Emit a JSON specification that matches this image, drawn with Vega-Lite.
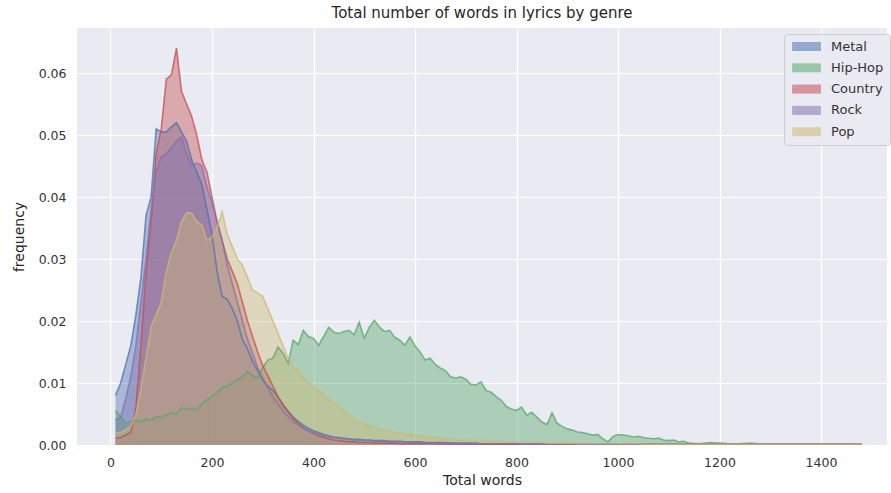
{
"$schema":"https://vega.github.io/schema/vega-lite/v6.json",
"width":810,"height":417,
"autosize":{"type":"none"},
"padding":{"left":77,"top":28,"right":4,"bottom":48},
"background":"white",
"title":{"text":"Total number of words in lyrics by genre","fontSize":15,"font":"DejaVu Sans","fontWeight":"normal","color":"#262626","offset":7},
"data":{"values":[
{"w":10,"Metal":0.0080,"Hip-Hop":0.0056,"Country":0.0011,"Rock":0.0040,"Pop":0.0020},
{"w":20,"Metal":0.0100,"Hip-Hop":0.0045,"Country":0.0012,"Rock":0.0045,"Pop":0.0020},
{"w":30,"Metal":0.0130,"Hip-Hop":0.0035,"Country":0.0016,"Rock":0.0075,"Pop":0.0025},
{"w":40,"Metal":0.0160,"Hip-Hop":0.0038,"Country":0.0020,"Rock":0.0110,"Pop":0.0030},
{"w":50,"Metal":0.0210,"Hip-Hop":0.0040,"Country":0.0060,"Rock":0.0160,"Pop":0.0050},
{"w":60,"Metal":0.0270,"Hip-Hop":0.0037,"Country":0.0160,"Rock":0.0230,"Pop":0.0090},
{"w":70,"Metal":0.0370,"Hip-Hop":0.0042,"Country":0.0280,"Rock":0.0300,"Pop":0.0140},
{"w":80,"Metal":0.0400,"Hip-Hop":0.0040,"Country":0.0360,"Rock":0.0380,"Pop":0.0190},
{"w":90,"Metal":0.0510,"Hip-Hop":0.0046,"Country":0.0470,"Rock":0.0440,"Pop":0.0210},
{"w":100,"Metal":0.0505,"Hip-Hop":0.0044,"Country":0.0510,"Rock":0.0465,"Pop":0.0230},
{"w":110,"Metal":0.0505,"Hip-Hop":0.0048,"Country":0.0590,"Rock":0.0470,"Pop":0.0280},
{"w":120,"Metal":0.0513,"Hip-Hop":0.0052,"Country":0.0597,"Rock":0.0480,"Pop":0.0310},
{"w":130,"Metal":0.0520,"Hip-Hop":0.0050,"Country":0.0640,"Rock":0.0490,"Pop":0.0330},
{"w":140,"Metal":0.0505,"Hip-Hop":0.0060,"Country":0.0570,"Rock":0.0497,"Pop":0.0360},
{"w":150,"Metal":0.0490,"Hip-Hop":0.0057,"Country":0.0550,"Rock":0.0470,"Pop":0.0375},
{"w":160,"Metal":0.0460,"Hip-Hop":0.0060,"Country":0.0530,"Rock":0.0450,"Pop":0.0374},
{"w":170,"Metal":0.0440,"Hip-Hop":0.0056,"Country":0.0500,"Rock":0.0455,"Pop":0.0360},
{"w":180,"Metal":0.0420,"Hip-Hop":0.0066,"Country":0.0460,"Rock":0.0450,"Pop":0.0355},
{"w":190,"Metal":0.0380,"Hip-Hop":0.0073,"Country":0.0440,"Rock":0.0416,"Pop":0.0330},
{"w":200,"Metal":0.0340,"Hip-Hop":0.0078,"Country":0.0400,"Rock":0.0390,"Pop":0.0335},
{"w":210,"Metal":0.0280,"Hip-Hop":0.0085,"Country":0.0360,"Rock":0.0360,"Pop":0.0350},
{"w":220,"Metal":0.0240,"Hip-Hop":0.0092,"Country":0.0330,"Rock":0.0330,"Pop":0.0376},
{"w":230,"Metal":0.0235,"Hip-Hop":0.0095,"Country":0.0300,"Rock":0.0290,"Pop":0.0340},
{"w":240,"Metal":0.0220,"Hip-Hop":0.0100,"Country":0.0280,"Rock":0.0260,"Pop":0.0320},
{"w":250,"Metal":0.0200,"Hip-Hop":0.0105,"Country":0.0260,"Rock":0.0230,"Pop":0.0300},
{"w":260,"Metal":0.0170,"Hip-Hop":0.0110,"Country":0.0230,"Rock":0.0200,"Pop":0.0290},
{"w":270,"Metal":0.0155,"Hip-Hop":0.0118,"Country":0.0200,"Rock":0.0170,"Pop":0.0270},
{"w":280,"Metal":0.0135,"Hip-Hop":0.0112,"Country":0.0175,"Rock":0.0148,"Pop":0.0250},
{"w":290,"Metal":0.0120,"Hip-Hop":0.0108,"Country":0.0150,"Rock":0.0125,"Pop":0.0245},
{"w":300,"Metal":0.0105,"Hip-Hop":0.0125,"Country":0.0128,"Rock":0.0108,"Pop":0.0240},
{"w":310,"Metal":0.0095,"Hip-Hop":0.0137,"Country":0.0112,"Rock":0.0092,"Pop":0.0220},
{"w":320,"Metal":0.0088,"Hip-Hop":0.0140,"Country":0.0095,"Rock":0.0078,"Pop":0.0200},
{"w":330,"Metal":0.0078,"Hip-Hop":0.0158,"Country":0.0078,"Rock":0.0066,"Pop":0.0180},
{"w":340,"Metal":0.0065,"Hip-Hop":0.0148,"Country":0.0064,"Rock":0.0055,"Pop":0.0160},
{"w":350,"Metal":0.0055,"Hip-Hop":0.0132,"Country":0.0053,"Rock":0.0046,"Pop":0.0140},
{"w":360,"Metal":0.0045,"Hip-Hop":0.0169,"Country":0.0043,"Rock":0.0038,"Pop":0.0126},
{"w":370,"Metal":0.0038,"Hip-Hop":0.0162,"Country":0.0035,"Rock":0.0032,"Pop":0.0120},
{"w":380,"Metal":0.0032,"Hip-Hop":0.0185,"Country":0.0028,"Rock":0.0027,"Pop":0.0108},
{"w":390,"Metal":0.0027,"Hip-Hop":0.0175,"Country":0.0023,"Rock":0.0023,"Pop":0.0100},
{"w":400,"Metal":0.0023,"Hip-Hop":0.0172,"Country":0.0019,"Rock":0.0020,"Pop":0.0094},
{"w":410,"Metal":0.0020,"Hip-Hop":0.0161,"Country":0.0015,"Rock":0.0018,"Pop":0.0088},
{"w":420,"Metal":0.0017,"Hip-Hop":0.0175,"Country":0.0012,"Rock":0.0015,"Pop":0.0082},
{"w":430,"Metal":0.0015,"Hip-Hop":0.0190,"Country":0.0010,"Rock":0.0013,"Pop":0.0074},
{"w":440,"Metal":0.0013,"Hip-Hop":0.0182,"Country":0.0008,"Rock":0.0012,"Pop":0.0068},
{"w":450,"Metal":0.0012,"Hip-Hop":0.0180,"Country":0.0007,"Rock":0.0011,"Pop":0.0062},
{"w":460,"Metal":0.0011,"Hip-Hop":0.0183,"Country":0.0006,"Rock":0.0010,"Pop":0.0055},
{"w":470,"Metal":0.0010,"Hip-Hop":0.0185,"Country":0.0005,"Rock":0.0009,"Pop":0.0048},
{"w":480,"Metal":0.0009,"Hip-Hop":0.0178,"Country":0.0005,"Rock":0.0008,"Pop":0.0042},
{"w":490,"Metal":0.0009,"Hip-Hop":0.0198,"Country":0.0004,"Rock":0.0008,"Pop":0.0037},
{"w":500,"Metal":0.0008,"Hip-Hop":0.0172,"Country":0.0004,"Rock":0.0007,"Pop":0.0034},
{"w":510,"Metal":0.0008,"Hip-Hop":0.0190,"Country":0.0004,"Rock":0.0007,"Pop":0.0031},
{"w":520,"Metal":0.0007,"Hip-Hop":0.0201,"Country":0.0003,"Rock":0.0006,"Pop":0.0029},
{"w":530,"Metal":0.0007,"Hip-Hop":0.0190,"Country":0.0003,"Rock":0.0006,"Pop":0.0026},
{"w":540,"Metal":0.0007,"Hip-Hop":0.0183,"Country":0.0003,"Rock":0.0006,"Pop":0.0024},
{"w":550,"Metal":0.0006,"Hip-Hop":0.0185,"Country":0.0003,"Rock":0.0005,"Pop":0.0022},
{"w":560,"Metal":0.0006,"Hip-Hop":0.0174,"Country":0.0003,"Rock":0.0005,"Pop":0.0020},
{"w":570,"Metal":0.0006,"Hip-Hop":0.0169,"Country":0.0002,"Rock":0.0005,"Pop":0.0019},
{"w":580,"Metal":0.0005,"Hip-Hop":0.0161,"Country":0.0002,"Rock":0.0005,"Pop":0.0018},
{"w":590,"Metal":0.0005,"Hip-Hop":0.0174,"Country":0.0002,"Rock":0.0004,"Pop":0.0017},
{"w":600,"Metal":0.0005,"Hip-Hop":0.0160,"Country":0.0002,"Rock":0.0004,"Pop":0.0016},
{"w":610,"Metal":0.0005,"Hip-Hop":0.0150,"Country":0.0002,"Rock":0.0004,"Pop":0.0015},
{"w":620,"Metal":0.0004,"Hip-Hop":0.0137,"Country":0.0002,"Rock":0.0004,"Pop":0.0014},
{"w":630,"Metal":0.0004,"Hip-Hop":0.0140,"Country":0.0002,"Rock":0.0003,"Pop":0.0013},
{"w":640,"Metal":0.0004,"Hip-Hop":0.0130,"Country":0.0002,"Rock":0.0003,"Pop":0.0012},
{"w":650,"Metal":0.0004,"Hip-Hop":0.0124,"Country":0.0001,"Rock":0.0003,"Pop":0.0011},
{"w":660,"Metal":0.0004,"Hip-Hop":0.0120,"Country":0.0001,"Rock":0.0003,"Pop":0.0010},
{"w":670,"Metal":0.0003,"Hip-Hop":0.0110,"Country":0.0001,"Rock":0.0003,"Pop":0.0010},
{"w":680,"Metal":0.0003,"Hip-Hop":0.0108,"Country":0.0001,"Rock":0.0002,"Pop":0.0009},
{"w":690,"Metal":0.0003,"Hip-Hop":0.0110,"Country":0.0001,"Rock":0.0002,"Pop":0.0008},
{"w":700,"Metal":0.0003,"Hip-Hop":0.0106,"Country":0.0001,"Rock":0.0002,"Pop":0.0008},
{"w":710,"Metal":0.0003,"Hip-Hop":0.0098,"Country":0.0001,"Rock":0.0002,"Pop":0.0008},
{"w":720,"Metal":0.0003,"Hip-Hop":0.0097,"Country":0.0001,"Rock":0.0002,"Pop":0.0007},
{"w":730,"Metal":0.0002,"Hip-Hop":0.0102,"Country":0.0001,"Rock":0.0002,"Pop":0.0007},
{"w":740,"Metal":0.0002,"Hip-Hop":0.0088,"Country":0.0001,"Rock":0.0002,"Pop":0.0007},
{"w":750,"Metal":0.0002,"Hip-Hop":0.0085,"Country":0.0001,"Rock":0.0002,"Pop":0.0006},
{"w":760,"Metal":0.0002,"Hip-Hop":0.0078,"Country":0.0001,"Rock":0.0002,"Pop":0.0006},
{"w":770,"Metal":0.0002,"Hip-Hop":0.0072,"Country":0.0001,"Rock":0.0002,"Pop":0.0006},
{"w":780,"Metal":0.0002,"Hip-Hop":0.0062,"Country":0.0001,"Rock":0.0002,"Pop":0.0005},
{"w":790,"Metal":0.0002,"Hip-Hop":0.0058,"Country":0.0001,"Rock":0.0002,"Pop":0.0005},
{"w":800,"Metal":0.0002,"Hip-Hop":0.0056,"Country":0.0001,"Rock":0.0002,"Pop":0.0005},
{"w":810,"Metal":0.0002,"Hip-Hop":0.0061,"Country":0.0001,"Rock":0.0001,"Pop":0.0004},
{"w":820,"Metal":0.0002,"Hip-Hop":0.0048,"Country":0.0001,"Rock":0.0001,"Pop":0.0004},
{"w":830,"Metal":0.0002,"Hip-Hop":0.0053,"Country":0.0001,"Rock":0.0001,"Pop":0.0004},
{"w":840,"Metal":0.0002,"Hip-Hop":0.0045,"Country":0.0001,"Rock":0.0001,"Pop":0.0004},
{"w":850,"Metal":0.0002,"Hip-Hop":0.0037,"Country":0.0001,"Rock":0.0001,"Pop":0.0004},
{"w":860,"Metal":0.0002,"Hip-Hop":0.0033,"Country":0.0001,"Rock":0.0001,"Pop":0.0003},
{"w":870,"Metal":0.0002,"Hip-Hop":0.0052,"Country":0.0001,"Rock":0.0001,"Pop":0.0003},
{"w":880,"Metal":0.0001,"Hip-Hop":0.0035,"Country":0.0001,"Rock":0.0001,"Pop":0.0003},
{"w":890,"Metal":0.0001,"Hip-Hop":0.0030,"Country":0.0001,"Rock":0.0001,"Pop":0.0003},
{"w":900,"Metal":0.0001,"Hip-Hop":0.0026,"Country":0.0001,"Rock":0.0001,"Pop":0.0003},
{"w":910,"Metal":0.0001,"Hip-Hop":0.0024,"Country":0.0001,"Rock":0.0001,"Pop":0.0003},
{"w":920,"Metal":0.0001,"Hip-Hop":0.0021,"Country":0.0001,"Rock":0.0001,"Pop":0.0002},
{"w":930,"Metal":0.0001,"Hip-Hop":0.0020,"Country":0.0001,"Rock":0.0001,"Pop":0.0002},
{"w":940,"Metal":0.0001,"Hip-Hop":0.0018,"Country":0.0001,"Rock":0.0001,"Pop":0.0002},
{"w":950,"Metal":0.0001,"Hip-Hop":0.0016,"Country":0.0001,"Rock":0.0001,"Pop":0.0002},
{"w":960,"Metal":0.0001,"Hip-Hop":0.0017,"Country":0.0001,"Rock":0.0001,"Pop":0.0002},
{"w":970,"Metal":0.0001,"Hip-Hop":0.0010,"Country":0.0001,"Rock":0.0001,"Pop":0.0002},
{"w":980,"Metal":0.0001,"Hip-Hop":0.0005,"Country":0.0001,"Rock":0.0001,"Pop":0.0002},
{"w":990,"Metal":0.0001,"Hip-Hop":0.0014,"Country":0.0001,"Rock":0.0001,"Pop":0.0002},
{"w":1000,"Metal":0.0001,"Hip-Hop":0.0017,"Country":0.0001,"Rock":0.0001,"Pop":0.0002},
{"w":1010,"Metal":0.0001,"Hip-Hop":0.0016,"Country":0.0001,"Rock":0.0001,"Pop":0.0002},
{"w":1020,"Metal":0.0001,"Hip-Hop":0.0015,"Country":0.0001,"Rock":0.0001,"Pop":0.0002},
{"w":1030,"Metal":0.0001,"Hip-Hop":0.0013,"Country":0.0001,"Rock":0.0001,"Pop":0.0002},
{"w":1040,"Metal":0.0001,"Hip-Hop":0.0014,"Country":0.0001,"Rock":0.0001,"Pop":0.0002},
{"w":1050,"Metal":0.0001,"Hip-Hop":0.0012,"Country":0.0001,"Rock":0.0001,"Pop":0.0001},
{"w":1060,"Metal":0.0001,"Hip-Hop":0.0011,"Country":0.0001,"Rock":0.0001,"Pop":0.0001},
{"w":1070,"Metal":0.0001,"Hip-Hop":0.0010,"Country":0.0001,"Rock":0.0001,"Pop":0.0001},
{"w":1080,"Metal":0.0001,"Hip-Hop":0.0011,"Country":0.0001,"Rock":0.0001,"Pop":0.0001},
{"w":1090,"Metal":0.0001,"Hip-Hop":0.0008,"Country":0.0001,"Rock":0.0001,"Pop":0.0001},
{"w":1100,"Metal":0.0001,"Hip-Hop":0.0007,"Country":0.0001,"Rock":0.0001,"Pop":0.0001},
{"w":1110,"Metal":0.0001,"Hip-Hop":0.0008,"Country":0.0001,"Rock":0.0001,"Pop":0.0001},
{"w":1120,"Metal":0.0001,"Hip-Hop":0.0005,"Country":0.0001,"Rock":0.0001,"Pop":0.0001},
{"w":1130,"Metal":0.0001,"Hip-Hop":0.0006,"Country":0.0001,"Rock":0.0001,"Pop":0.0001},
{"w":1140,"Metal":0.0001,"Hip-Hop":0.0003,"Country":0.0001,"Rock":0.0001,"Pop":0.0001},
{"w":1160,"Metal":0.0001,"Hip-Hop":0.0002,"Country":0.0001,"Rock":0.0001,"Pop":0.0001},
{"w":1180,"Metal":0.0001,"Hip-Hop":0.0004,"Country":0.0001,"Rock":0.0001,"Pop":0.0001},
{"w":1200,"Metal":0.0001,"Hip-Hop":0.0003,"Country":0.0001,"Rock":0.0001,"Pop":0.0001},
{"w":1220,"Metal":0.0001,"Hip-Hop":0.0002,"Country":0.0001,"Rock":0.0001,"Pop":0.0001},
{"w":1240,"Metal":0.0001,"Hip-Hop":0.0002,"Country":0.0001,"Rock":0.0001,"Pop":0.0001},
{"w":1260,"Metal":0.0001,"Hip-Hop":0.0003,"Country":0.0001,"Rock":0.0001,"Pop":0.0001},
{"w":1280,"Metal":0.0001,"Hip-Hop":0.0002,"Country":0.0001,"Rock":0.0001,"Pop":0.0001},
{"w":1300,"Metal":0.0001,"Hip-Hop":0.0002,"Country":0.0001,"Rock":0.0001,"Pop":0.0001},
{"w":1340,"Metal":0.0001,"Hip-Hop":0.0002,"Country":0.0001,"Rock":0.0001,"Pop":0.0001},
{"w":1380,"Metal":0.0001,"Hip-Hop":0.0002,"Country":0.0001,"Rock":0.0001,"Pop":0.0001},
{"w":1420,"Metal":0.0001,"Hip-Hop":0.0002,"Country":0.0001,"Rock":0.0001,"Pop":0.0001},
{"w":1460,"Metal":0.0001,"Hip-Hop":0.0002,"Country":0.0001,"Rock":0.0001,"Pop":0.0001},
{"w":1480,"Metal":0.0001,"Hip-Hop":0.0001,"Country":0.0001,"Rock":0.0001,"Pop":0.0001}
]},
"transform":[{"fold":["Metal","Hip-Hop","Country","Rock","Pop"],"as":["genre","freq"]}],
"encoding":{
"x":{"field":"w","type":"quantitative","title":"Total words","scale":{"domain":[-66,1530],"nice":false,"zero":false},"axis":{"values":[0,200,400,600,800,1000,1200,1400],"format":"d"}},
"y":{"field":"freq","type":"quantitative","stack":null,"title":"frequency","scale":{"domain":[0,0.06726],"nice":false},"axis":{"values":[0,0.01,0.02,0.03,0.04,0.05,0.06],"format":".2f"}},
"color":{"field":"genre","type":"nominal","sort":["Metal","Hip-Hop","Country","Rock","Pop"],"scale":{"domain":["Metal","Hip-Hop","Country","Rock","Pop"],"range":["#4C72B0","#55A868","#C44E52","#8172B2","#CCB974"]},
"legend":{"title":null,"orient":"none","legendX":707,"legendY":6,"padding":6,"fillColor":"#EAEAF2","strokeColor":"#CCCCCC","cornerRadius":3,"symbolType":"M-3.2,-1H3.2V1H-3.2Z","symbolSize":81,"symbolOpacity":0.55,"symbolStrokeWidth":0,"labelFontSize":13,"labelFont":"DejaVu Sans","labelColor":"#333333","rowPadding":7.3,"symbolOffset":10,"labelOffset":18}}
},
"layer":[
{"mark":{"type":"area","fillOpacity":0.42,"clip":true}},
{"mark":{"type":"line","strokeWidth":1.6,"strokeOpacity":0.75,"clip":true}}
],
"config":{
"view":{"fill":"#EAEAF2","stroke":null},
"axis":{"grid":true,"gridColor":"white","gridWidth":1.2,"domain":false,"ticks":false,"tickSize":0,"labelFont":"DejaVu Sans","labelFontSize":12.5,"labelColor":"#333333","titleFont":"DejaVu Sans","titleFontSize":14,"titleFontWeight":"normal","titleColor":"#262626"},
"axisX":{"labelPadding":11,"titlePadding":5},
"axisY":{"labelPadding":11,"titlePadding":12}
}
}
